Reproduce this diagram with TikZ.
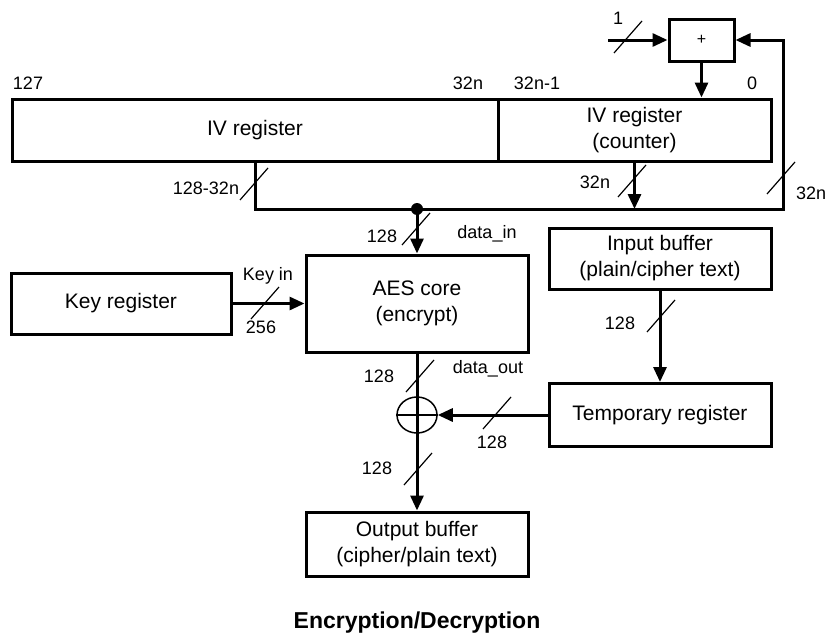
\documentclass[tikz,border=0pt]{standalone}
\usepackage{fontspec}
\setmainfont{Liberation Sans}
\usetikzlibrary{arrows.meta,shapes.geometric}

\begin{document}
\begin{tikzpicture}[x=1pt,y=-1pt,>={Triangle[length=15pt,width=13pt]},
  block/.style={draw,line width=3pt,inner sep=0pt,align=center,font=\fontsize{21}{26}\selectfont},
  wire/.style={line width=3pt},
  slash/.style={line width=1.2pt},
  lbl/.style={font=\fontsize{18}{22}\selectfont,inner sep=0pt}]
  \useasboundingbox (0,0) rectangle (825,637);
  \node[block,minimum width=486pt,minimum height=62pt] (ivreg) at (255,130) {IV register};
  \node[block,minimum width=273pt,minimum height=62pt] (ivcnt) at (634.5,130) {IV register\\(counter)};
  \node[block,minimum width=65pt,minimum height=42pt,font=\fontsize{16}{20}\selectfont] (plus) at (701.5,40) {+};
  \node[block,minimum width=222pt,minimum height=97pt] (aes) at (417,303.5) {AES core\\(encrypt)};
  \node[block,minimum width=220pt,minimum height=61pt] (keyreg) at (121,303.5) {Key register};
  \node[block,minimum width=222pt,minimum height=61pt] (inbuf) at (660,258.5) {Input buffer\\(plain/cipher text)};
  \node[block,minimum width=222pt,minimum height=63pt] (tmpreg) at (660,415) {Temporary register};
  \node[block,minimum width=222pt,minimum height=64pt] (outbuf) at (417,544) {Output buffer\\(cipher/plain text)};
  \node[draw,ellipse,line width=1.5pt,minimum width=40pt,minimum height=36pt,inner sep=0pt] (xor) at (417,415) {};
  \coordinate (one) at (608,40);
  \coordinate (fb) at (783,209);
  \coordinate (join) at (aes.north |- fb);

  \draw[wire,->] (one) -- (plus);
  \draw[wire,->] (plus) -- (plus.south |- ivcnt.north);
  \draw[wire,->] (ivreg.south) |- (fb) |- (plus.east);
  \draw[wire,->] (ivcnt.south) -- (ivcnt.south |- fb);
  \fill (join) circle (6);
  \draw[wire,->] (join) -- (aes.north);
  \draw[wire,->] (keyreg) -- (aes);
  \draw[wire,->] (inbuf) -- (tmpreg);
  \draw[wire,->] (tmpreg) -- (xor);
  \draw[wire,->] (aes) -- (outbuf);
  \draw[slash] (xor.west) -- (xor.east);
  \foreach \x/\y in {628/37,254/184,632/181,781/178,416/229,265/303,661/316,420/376,497/413,418/469}
    \draw[slash] (\x-14,\y+16) -- (\x+14,\y-16);

  \node[lbl] (b127) at (28,83) {127};
  \node[lbl] (b32n) at (468,83) {32n};
  \node[lbl] (b32m) at (537,83) {32n-1};
  \node[lbl] (b0) at (752,83) {0};
  \node[lbl] (wone) at (618,18) {1};
  \node[lbl] (whi) at (206,188) {128-32n};
  \node[lbl] (wlo) at (595,182) {32n};
  \node[lbl,anchor=west] (wfb) at (796,193) {32n};
  \node[lbl] (win) at (382,236) {128};
  \node[lbl] (din) at (487,234) {data\_in};
  \node[lbl] (keyin) at (268,276) {Key in};
  \node[lbl] (wkey) at (261,327) {256};
  \node[lbl] (wbuf) at (620,323) {128};
  \node[lbl] (wout) at (379,376) {128};
  \node[lbl] (dout) at (488,369) {data\_out};
  \node[lbl] (wtmp) at (492,442) {128};
  \node[lbl] (wres) at (377,468) {128};
  \node[font=\fontsize{23}{28}\selectfont\bfseries] (title) at (417,623) {Encryption/Decryption};
\end{tikzpicture}
\end{document}
